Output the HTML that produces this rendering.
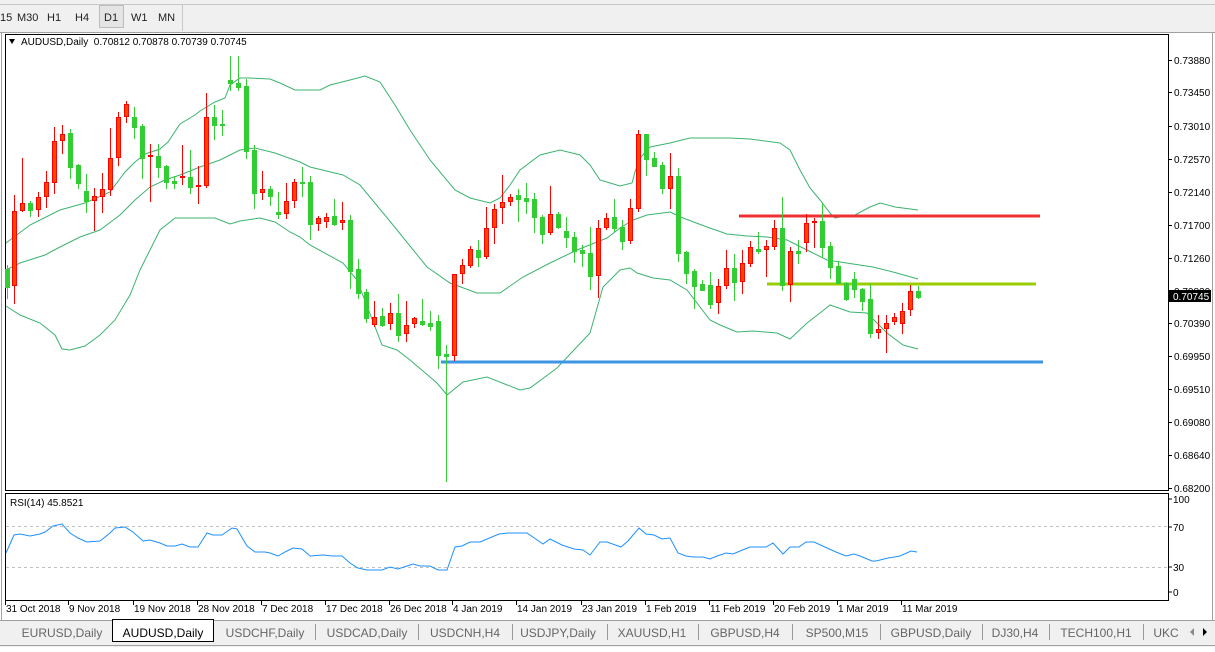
<!DOCTYPE html>
<html><head><meta charset="utf-8">
<style>
html,body{margin:0;padding:0;background:#fff;}
body{width:1215px;height:647px;overflow:hidden;position:relative;font-family:"Liberation Sans",sans-serif;}
svg text{font-family:"Liberation Sans",sans-serif;}
</style></head>
<body>
<svg id="s" width="1215" height="647" xmlns="http://www.w3.org/2000/svg">
<!-- toolbar -->
<rect x="0" y="0" width="1215" height="32" fill="#f0f0f0"/>
<line x1="0" y1="4.5" x2="1215" y2="4.5" stroke="#c8c8c8"/>
<line x1="182.5" y1="4" x2="182.5" y2="31" stroke="#c8c8c8"/>
<rect x="99.5" y="5.5" width="24" height="22" fill="#e4e4e4" stroke="#bdbdbd"/>
<g font-size="11" fill="#222">
<text x="0" y="21">15</text><text x="17" y="21">M30</text><text x="47" y="21">H1</text><text x="75" y="21">H4</text>
<text x="104" y="21">D1</text><text x="131" y="21">W1</text><text x="158" y="21">MN</text>
</g>
<!-- window frame -->
<rect x="0" y="32" width="1215" height="588" fill="#fff"/>
<line x1="1.5" y1="33" x2="1.5" y2="620" stroke="#a0a0a0"/>
<line x1="1212.5" y1="33" x2="1212.5" y2="620" stroke="#a0a0a0"/>
<line x1="0" y1="32.5" x2="1215" y2="32.5" stroke="#a0a0a0"/>
<rect x="5.5" y="34.5" width="1163" height="456" fill="none" stroke="#000"/>
<rect x="5.5" y="493.5" width="1163" height="107" fill="none" stroke="#000"/>
<g id="grid"></g>
<g id="bands" fill="none" stroke="#3cb371" stroke-width="1"></g>
<!-- horizontal lines -->
<line x1="739" y1="216" x2="1040" y2="216" stroke="#f03030" stroke-width="3"/>
<line x1="767" y1="284" x2="1036" y2="284" stroke="#9acd00" stroke-width="3"/>
<line x1="441" y1="362" x2="1043" y2="362" stroke="#3d95e5" stroke-width="3"/>
<g id="candles"></g>
<!-- title -->
<polygon points="9,39 15,39 12,44" fill="#000"/>
<text x="21" y="45" font-size="10" fill="#000">AUDUSD,Daily&#160; 0.70812 0.70878 0.70739 0.70745</text>
<!-- price axis -->
<g id="paxis" font-size="10" fill="#000"></g>
<rect x="1169" y="290" width="42" height="12" fill="#000"/>
<text x="1173" y="300" font-size="10" fill="#fff">0.70745</text>
<!-- RSI -->
<line x1="6" y1="526.5" x2="1168" y2="526.5" stroke="#c0c0c0" stroke-dasharray="3,3"/>
<line x1="6" y1="567.5" x2="1168" y2="567.5" stroke="#c0c0c0" stroke-dasharray="3,3"/>
<text x="10" y="506" font-size="10" fill="#000">RSI(14) 45.8521</text>
<polyline id="rsi" fill="none" stroke="#1e90ff" stroke-width="1"/>
<g font-size="10" fill="#000">
<line x1="1169" y1="499" x2="1172" y2="499" stroke="#000"/><text x="1173" y="503">100</text>
<line x1="1169" y1="527" x2="1172" y2="527" stroke="#000"/><text x="1173" y="531">70</text>
<line x1="1169" y1="567" x2="1172" y2="567" stroke="#000"/><text x="1173" y="571">30</text>
<line x1="1169" y1="592" x2="1172" y2="592" stroke="#000"/><text x="1173" y="596">0</text>
</g>
<g id="daxis" font-size="10" fill="#000"></g>
<!-- tabs -->
<rect x="0" y="620" width="1215" height="27" fill="#f0f0f0"/>
<line x1="0" y1="620.5" x2="1215" y2="620.5" stroke="#a0a0a0"/>
<line x1="0" y1="645.5" x2="1215" y2="645.5" stroke="#a0a0a0"/>
<rect x="112.5" y="619.5" width="101" height="22" fill="#fff" stroke="#000"/>
<g font-size="12" fill="#666" text-anchor="middle">
<text x="62" y="637">EURUSD,Daily</text>
<text x="163" y="637" fill="#000">AUDUSD,Daily</text>
<text x="265" y="637">USDCHF,Daily</text>
<text x="367" y="637">USDCAD,Daily</text>
<text x="465" y="637">USDCNH,H4</text>
<text x="558" y="637">USDJPY,Daily</text>
<text x="652" y="637">XAUUSD,H1</text>
<text x="745" y="637">GBPUSD,H4</text>
<text x="837" y="637">SP500,M15</text>
<text x="931" y="637">GBPUSD,Daily</text>
<text x="1015" y="637">DJ30,H4</text>
<text x="1096" y="637">TECH100,H1</text>
<text x="1166" y="637">UKC</text>
</g>
<g stroke="#999">
<line x1="315.5" y1="624" x2="315.5" y2="640"/><line x1="418.5" y1="624" x2="418.5" y2="640"/>
<line x1="512.5" y1="624" x2="512.5" y2="640"/><line x1="607.5" y1="624" x2="607.5" y2="640"/>
<line x1="698.5" y1="624" x2="698.5" y2="640"/><line x1="792.5" y1="624" x2="792.5" y2="640"/>
<line x1="880.5" y1="624" x2="880.5" y2="640"/><line x1="982.5" y1="624" x2="982.5" y2="640"/>
<line x1="1049.5" y1="624" x2="1049.5" y2="640"/><line x1="1143.5" y1="624" x2="1143.5" y2="640"/>
</g>
<polygon points="1194,628 1194,636 1190,632" fill="#888"/>
<polygon points="1203,628 1203,636 1207,632" fill="#000"/>
</svg>
<script>
var NS="http://www.w3.org/2000/svg";
function el(n,a,p){var e=document.createElementNS(NS,n);for(var k in a)e.setAttribute(k,a[k]);p.appendChild(e);return e;}
var C=[[269,287,265,298,'g'],[211,286,195,303,'r'],[203,211,158,211,'r'],[203,210,201,216,'g'],[197,210,192,216,'r'],[182,197,171,207,'r'],[141,183,127,193,'r'],[134,141,125,153,'r'],[133,167,129,178,'g'],[165,183,164,188,'g'],[191,201,174,212,'g'],[196,201,188,230,'r'],[189,197,173,212,'r'],[158,190,128,195,'r'],[117,158,112,165,'r'],[104,117,101,122,'r'],[117,127,107,138,'g'],[126,158,124,178,'g'],[155,157,144,201,'r'],[156,167,144,177,'g'],[166,182,165,188,'g'],[181,183,176,188,'g'],[176,177,145,184,'r'],[177,187,150,193,'g'],[185,187,166,203,'r'],[117,186,93,187,'r'],[117,125,105,139,'g'],[124,125,110,135,'g'],[80,83,56,90,'g'],[83,87,56,90,'g'],[86,151,79,158,'g'],[150,193,145,208,'g'],[189,193,171,199,'r'],[189,196,186,205,'g'],[212,214,192,218,'g'],[201,214,183,218,'r'],[182,201,179,207,'r'],[182,183,167,196,'g'],[182,224,176,239,'g'],[218,224,216,230,'r'],[217,222,213,227,'r'],[216,224,199,225,'g'],[220,223,202,229,'r'],[220,271,215,288,'g'],[269,293,259,298,'g'],[292,318,289,322,'g'],[317,325,301,326,'r'],[316,325,308,326,'g'],[313,324,303,329,'r'],[313,335,294,341,'g'],[325,334,301,341,'r'],[318,324,317,327,'r'],[321,324,299,325,'g'],[323,326,311,330,'g'],[321,355,315,368,'g'],[354,356,345,481,'g'],[274,356,274,360,'r'],[265,274,259,283,'r'],[249,266,246,267,'r'],[250,257,240,266,'g'],[228,257,207,258,'r'],[209,228,204,243,'r'],[202,208,175,223,'r'],[197,202,194,205,'r'],[195,199,189,221,'g'],[198,201,183,213,'g'],[199,217,193,232,'g'],[217,234,215,243,'g'],[214,233,186,234,'r'],[214,227,212,228,'g'],[231,237,217,247,'g'],[237,251,232,262,'g'],[250,253,245,266,'g'],[253,276,227,289,'g'],[228,276,220,297,'r'],[218,228,213,229,'r'],[217,228,199,231,'g'],[227,241,220,249,'g'],[208,241,199,243,'r'],[134,209,130,211,'r'],[134,159,134,175,'g'],[158,166,152,166,'g'],[165,188,162,193,'g'],[176,189,153,208,'r'],[176,253,168,261,'g'],[252,273,251,283,'g'],[271,286,269,308,'g'],[284,290,280,290,'g'],[285,304,272,308,'g'],[286,303,279,313,'r'],[268,286,250,288,'r'],[268,282,254,300,'g'],[263,282,250,293,'r'],[247,264,241,266,'r'],[249,251,232,253,'g'],[246,250,240,276,'r'],[228,247,220,249,'r'],[228,285,197,290,'g'],[251,285,247,301,'r'],[251,253,240,263,'g'],[223,243,214,251,'r'],[221,223,218,247,'r'],[221,247,203,257,'g'],[246,267,242,278,'g'],[266,283,261,283,'g'],[283,299,282,300,'g'],[279,289,272,297,'g'],[289,301,288,310,'g'],[299,333,284,337,'g'],[329,333,315,338,'r'],[323,329,315,352,'r'],[317,322,313,324,'r'],[311,324,303,333,'r'],[291,310,285,315,'r'],[291,297,286,298,'g']];
var cg=document.getElementById('candles');
C.forEach(function(c,i){
 var x=6+8*i; if(i==0)x=7;
 var col=c[4]=='r'?'#ff0000':'#32cd32';
 el('line',{x1:x+0.5,y1:c[2],x2:x+0.5,y2:c[3]+1,stroke:col},cg);
 var h=Math.max(c[1]-c[0],1);
 if(c[4]=='r') el('rect',{x:x-1.5,y:c[0]+0.5,width:4,height:Math.max(h-1,1),fill:'#ff4500',stroke:'#ff0000'},cg);
 else el('rect',{x:x-2,y:c[0],width:5,height:h+1,fill:'#32cd32'},cg);
});
var bg=document.getElementById('bands');
function pl(p){el('polyline',{points:p.map(function(a){return a.join(',')}).join(' ')},bg);}
pl([[6,243],[30,225],[60,210],[85,203],[110,192],[125,172],[135,162],[145,154],[160,149],[168,142],[180,124],[195,115],[200,111],[215,102],[225,98],[230,85],[240,78],[250,78],[270,79],[280,83],[295,90],[320,90],[330,85],[350,80],[365,76],[380,82],[395,105],[410,130],[430,160],[455,190],[470,198],[490,203],[500,198],[510,185],[520,170],[540,155],[560,150],[580,155],[590,165],[600,180],[610,183],[620,186],[632,183],[635,172],[640,158],[650,147],[660,145],[670,143],[690,138],[710,138],[730,138],[750,139],[765,141],[780,143],[790,150],[800,170],[810,188],[820,200],[830,213],[835,218],[840,217],[855,215],[870,207],[880,203],[895,207],[918,210]]);
pl([[6,270],[20,263],[45,255],[60,247],[80,237],[100,230],[120,215],[135,200],[150,187],[165,180],[180,175],[200,167],[220,160],[240,150],[255,148],[275,153],[300,162],[310,167],[343,175],[360,185],[393,225],[427,267],[450,283],[477,293],[500,293],[523,277],[550,263],[577,250],[607,238],[620,228],[633,220],[647,215],[670,212],[683,218],[707,227],[727,234],[747,236],[767,237],[787,240],[807,250],[827,260],[853,264],[873,267],[893,272],[918,279]]);
pl([[6,306],[20,315],[40,323],[55,335],[62,349],[70,350],[85,346],[100,335],[115,320],[130,295],[140,270],[160,230],[175,218],[190,218],[215,218],[230,224],[240,221],[260,218],[275,222],[290,232],[300,237],[310,245],[343,263],[357,280],[382,345],[397,350],[410,360],[437,383],[447,395],[463,382],[487,377],[520,390],[530,388],[557,368],[590,333],[603,287],[620,270],[630,268],[637,273],[653,278],[670,280],[687,290],[710,320],[720,325],[737,332],[753,331],[777,333],[790,339],[807,323],[820,313],[830,305],[850,312],[867,313],[887,333],[903,345],[918,349]]);
var R=[[6,553],[14,535],[20,534],[30,536],[40,534],[45,532],[53,526],[62,524],[70,533],[78,538],[87,542],[100,541],[110,533],[115,528],[125,527],[133,532],[143,541],[150,540],[160,543],[167,546],[175,546],[182,544],[190,547],[198,547],[207,533],[213,535],[222,535],[232,528],[237,529],[247,546],[255,552],[265,552],[270,553],[278,556],[285,552],[293,548],[302,549],[310,556],[323,555],[333,556],[342,556],[350,563],[358,568],[367,570],[378,570],[382,570],[390,567],[398,569],[407,566],[413,564],[420,566],[430,566],[438,570],[447,570],[455,547],[462,546],[470,542],[480,542],[499,534],[508,533],[527,533],[543,544],[550,539],[562,545],[574,549],[583,550],[590,555],[600,542],[607,542],[621,547],[628,541],[639,528],[646,534],[654,535],[662,539],[670,538],[678,553],[686,556],[693,557],[703,557],[710,559],[717,556],[726,553],[733,554],[740,551],[750,547],[766,547],[773,543],[783,554],[790,547],[799,547],[806,542],[814,542],[827,548],[836,552],[846,556],[854,554],[860,556],[872,561],[876,561],[888,558],[900,556],[911,551],[917,552]];
document.getElementById('rsi').setAttribute('points',R.map(function(a){return a.join(',')}).join(' '));
var pa=document.getElementById('paxis');
[['0.73880',60],['0.73450',92],['0.73010',126],['0.72570',159],['0.72140',192],['0.71700',225],['0.71260',258],['0.70820',291],['0.70390',323],['0.69950',356],['0.69510',389],['0.69080',422],['0.68640',455],['0.68200',488]].forEach(function(p){
 el('line',{x1:1169,y1:p[1]+0.5,x2:1172,y2:p[1]+0.5,stroke:'#000'},pa);
 var t=el('text',{x:1174,y:p[1]+4},pa);t.textContent=p[0];
});
var da=document.getElementById('daxis');
[['31 Oct 2018',5],['9 Nov 2018',68],['19 Nov 2018',133],['28 Nov 2018',197],['7 Dec 2018',261],['17 Dec 2018',325],['26 Dec 2018',389],['4 Jan 2019',452],['14 Jan 2019',516],['23 Jan 2019',581],['1 Feb 2019',645],['11 Feb 2019',709],['20 Feb 2019',773],['1 Mar 2019',837],['11 Mar 2019',901]].forEach(function(p){
 el('line',{x1:p[1]+0.5,y1:601,x2:p[1]+0.5,y2:605,stroke:'#000'},da);
 var t=el('text',{x:p[1]+1,y:612},da);t.textContent=p[0];
});
</script>
</body></html>
